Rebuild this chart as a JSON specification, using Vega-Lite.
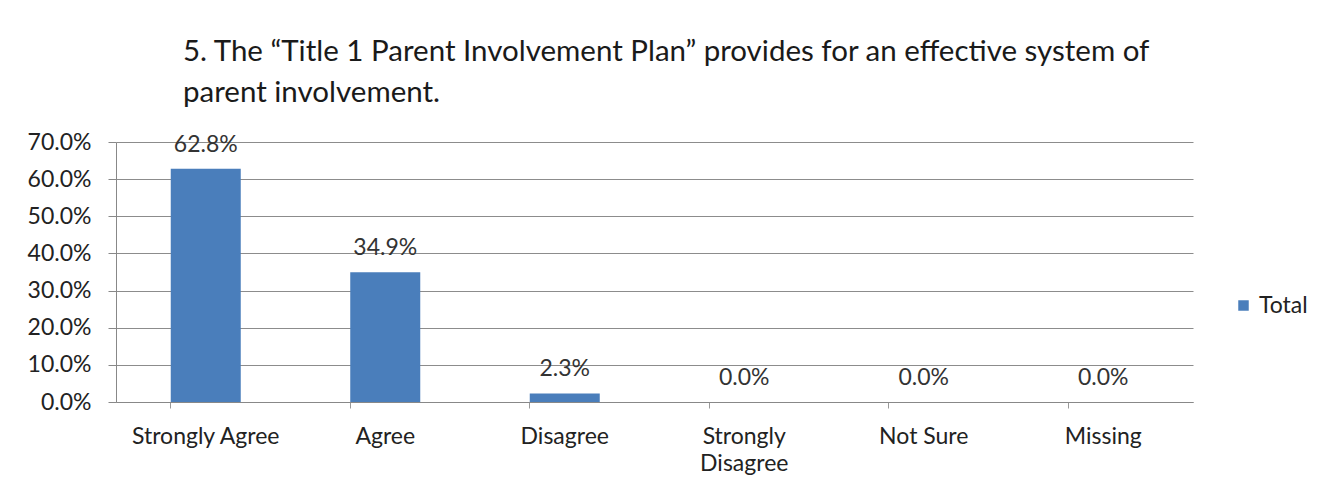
{
  "$schema": "https://vega.github.io/schema/vega-lite/v6.json",
  "width": 1077,
  "height": 260,
  "autosize": {"type": "none"},
  "padding": {"left": 116, "top": 142, "right": 138, "bottom": 93},
  "background": "white",
  "config": {
    "view": {"stroke": null},
    "font": "Lato"
  },
  "title": {
    "text": ["5.  The “Title 1 Parent Involvement Plan” provides for an effective system of", "parent involvement."],
    "anchor": "start",
    "frame": "group",
    "dx": 67,
    "fontSize": 29.5,
    "fontWeight": "normal",
    "font": "Lato",
    "color": "#1a1a1a",
    "lineHeight": 41,
    "offset": 23
  },
  "data": {
    "values": [
      {"category": "Strongly Agree", "value": 0.628, "series": "Total"},
      {"category": "Agree", "value": 0.349, "series": "Total"},
      {"category": "Disagree", "value": 0.023, "series": "Total"},
      {"category": "Strongly Disagree", "value": 0.0, "series": "Total"},
      {"category": "Not Sure", "value": 0.0, "series": "Total"},
      {"category": "Missing", "value": 0.0, "series": "Total"}
    ]
  },
  "encoding": {
    "x": {
      "field": "category",
      "type": "nominal",
      "sort": null,
      "scale": {"paddingInner": 0.61, "paddingOuter": 0.305},
      "axis": {
        "title": null,
        "labelAngle": 0,
        "labelFontSize": 23,
        "labelColor": "#222222",
        "labelPadding": 17,
        "labelLineHeight": 27,
        "labelOverlap": false,
        "labelExpr": "datum.label == 'Strongly Disagree' ? ['Strongly', 'Disagree'] : datum.label",
        "bandPosition": 0,
        "tickSize": 6,
        "tickColor": "#999999",
        "domainColor": "#888888",
        "grid": false
      }
    },
    "y": {
      "field": "value",
      "type": "quantitative",
      "scale": {"domain": [0, 0.7]},
      "axis": {
        "title": null,
        "format": ".1%",
        "values": [0, 0.1, 0.2, 0.3, 0.4, 0.5, 0.6, 0.7],
        "labelOverlap": false,
        "labelFlush": false,
        "labelFontSize": 23,
        "labelColor": "#222222",
        "labelPadding": 17,
        "tickSize": 8,
        "tickColor": "#888888",
        "domainColor": "#888888",
        "gridColor": "#8c8c8c",
        "gridWidth": 1
      }
    }
  },
  "layer": [
    {
      "mark": {"type": "bar", "color": "#4a7ebb"},
      "encoding": {
        "color": {
          "field": "series",
          "type": "nominal",
          "scale": {"range": ["#4a7ebb"]},
          "legend": {
            "title": null,
            "orient": "none",
            "legendX": 1116,
            "legendY": 152,
            "symbolType": "square",
            "symbolSize": 110,
            "labelFontSize": 23,
            "labelColor": "#222222",
            "labelOffset": 4
          }
        }
      }
    },
    {
      "mark": {"type": "text", "baseline": "alphabetic", "dy": -17, "fontSize": 23, "color": "#333333"},
      "encoding": {
        "text": {"field": "value", "type": "quantitative", "format": ".1%"}
      }
    }
  ]
}
